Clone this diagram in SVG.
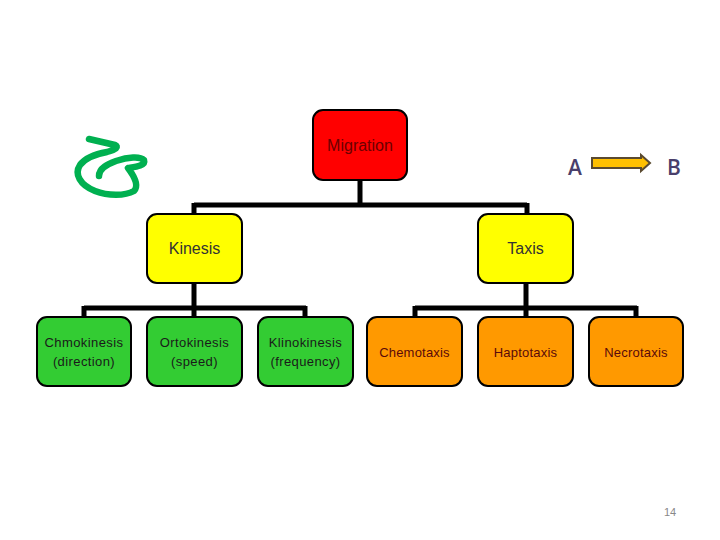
<svg xmlns="http://www.w3.org/2000/svg" width="720" height="540" viewBox="0 0 720 540">
<style>
.box{stroke:#000;stroke-width:2}
.red{fill:#FF0000}.yel{fill:#FFFF00}.grn{fill:#33CC33}.org{fill:#FF9900}
text{font-family:"Liberation Sans",Arial,sans-serif;text-anchor:middle}
.t1{font-size:16px;fill:#333}
.tm{font-size:16px;fill:#6b0000}
.tg{font-size:13px;fill:#1a1a1a;letter-spacing:0.4px}
.to{font-size:13px;fill:#5a0a0a;letter-spacing:0.2px}
.conn{stroke:#000;stroke-width:5;fill:none}
.ab{font-family:"Open Sans","Liberation Sans",sans-serif;font-size:21px;font-weight:600;fill:#4a3f6b}
</style>
<rect width="720" height="540" fill="#fff"/>
<path d="M89,139 L115,145 Q121,148 107,152 C96,154 86,157 80,165 C74,174 80,185 95,191 C108,196 125,196 134,191 C139,186 134,176 128,168 C134,167 146,166 144,160 C140,156 128,157 116,161 C108,164 99,168 99,176" fill="none" stroke="#00B050" stroke-width="6.5" stroke-linecap="round" stroke-linejoin="round"/>
<g id="connectors">
<path class="conn" d="M360,180 V205 M194,205 H527 M194,203 V214 M527,203 V214"/>
<path class="conn" d="M194,283 V308 M84,308 H306 M84,306 V317 M194,306 V317 M305,306 V317"/>
<path class="conn" d="M526,283 V308 M415,308 H637 M415,306 V317 M526,306 V317 M636,306 V317"/>
</g>
<g id="migration"><rect class="box red" x="313" y="110" width="94" height="70" rx="10"/><text class="tm" x="360" y="151">Migration</text></g>
<g id="kinesis"><rect class="box yel" x="147" y="214" width="95" height="69" rx="10"/><text class="t1" x="194.5" y="254">Kinesis</text></g>
<g id="taxis"><rect class="box yel" x="478" y="214" width="95" height="69" rx="10"/><text class="t1" x="525.5" y="254">Taxis</text></g>
<g id="chmokinesis"><rect class="box grn" x="37" y="317" width="94" height="69" rx="10"/><text class="tg" x="84" y="347">Chmokinesis</text><text class="tg" x="84" y="366">(direction)</text></g>
<g id="ortokinesis"><rect class="box grn" x="147" y="317" width="95" height="69" rx="10"/><text class="tg" x="194.5" y="347">Ortokinesis</text><text class="tg" x="194.5" y="366">(speed)</text></g>
<g id="klinokinesis"><rect class="box grn" x="258" y="317" width="95" height="69" rx="10"/><text class="tg" x="305.5" y="347">Klinokinesis</text><text class="tg" x="305.5" y="366">(frequency)</text></g>
<g id="chemotaxis"><rect class="box org" x="367" y="317" width="95" height="69" rx="10"/><text class="to" x="414.5" y="357">Chemotaxis</text></g>
<g id="haptotaxis"><rect class="box org" x="478" y="317" width="95" height="69" rx="10"/><text class="to" x="525.5" y="357">Haptotaxis</text></g>
<g id="necrotaxis"><rect class="box org" x="589" y="317" width="94" height="69" rx="10"/><text class="to" x="636" y="357">Necrotaxis</text></g>
<g id="ab">
<text class="ab" x="575" y="175">A</text>
<path d="M592,158 H641 V155 L650,163 L641,171 V168 H592 Z" fill="#FFC000" stroke="#5a4a30" stroke-width="2" stroke-linejoin="miter"/>
<text class="ab" x="674" y="175">B</text>
</g>
<text x="670" y="516" style="font-size:11px;fill:#888">14</text>
</svg>
